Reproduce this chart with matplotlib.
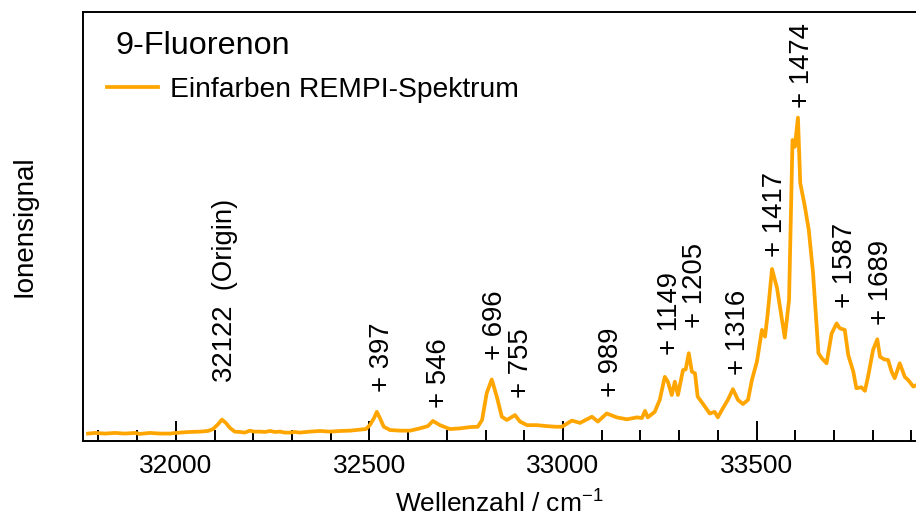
import matplotlib
matplotlib.use("Agg")
import matplotlib.pyplot as plt
from matplotlib.ticker import MultipleLocator

plt.rcParams['font.family'] = ['Liberation Sans', 'DejaVu Sans']
plt.rcParams['mathtext.fontset'] = 'custom'
plt.rcParams['mathtext.rm'] = 'Liberation Sans'
plt.rcParams['mathtext.it'] = 'Liberation Sans'

# Einfarben REMPI-Spektrum (Wellenzahl in cm-1, Signal in willk. Einheiten)
wellenzahl = [31773, 31791, 31817, 31842, 31868, 31894, 31907, 31933, 31959, 31984,
              32010, 32036, 32062, 32083, 32096, 32109, 32119, 32129, 32140, 32152,
              32165, 32178, 32191, 32202, 32217, 32230, 32243, 32256, 32269, 32282,
              32295, 32307, 32320, 32346, 32372, 32398, 32424, 32450, 32475, 32491,
              32501, 32512, 32519, 32527, 32537, 32553, 32579, 32605, 32630, 32651,
              32664, 32682, 32708, 32734, 32760, 32780, 32791, 32803, 32816, 32829,
              32842, 32855, 32876, 32889, 32907, 32933, 32958, 32982, 32997, 33023,
              33044, 33075, 33090, 33113, 33139, 33165, 33191, 33204, 33212, 33219,
              33237, 33250, 33263, 33271, 33281, 33289, 33297, 33310, 33317, 33325,
              33333, 33341, 33348, 33361, 33379, 33392, 33400, 33413, 33426, 33439,
              33452, 33465, 33478, 33488, 33501, 33514, 33522, 33529, 33540, 33553,
              33573, 33584, 33593, 33599, 33607, 33613, 33625, 33635, 33646, 33660,
              33669, 33681, 33694, 33707, 33715, 33728, 33737, 33750, 33758, 33771,
              33780, 33788, 33801, 33812, 33819, 33830, 33840, 33849, 33857, 33870,
              33883, 33892, 33905, 33914]
signal = [0.023, 0.025, 0.023, 0.025, 0.023, 0.025, 0.022, 0.025, 0.023, 0.023,
          0.026, 0.028, 0.029, 0.031, 0.037, 0.052, 0.066, 0.056, 0.040, 0.029,
          0.028, 0.026, 0.032, 0.029, 0.029, 0.028, 0.031, 0.028, 0.029, 0.026,
          0.026, 0.028, 0.026, 0.029, 0.031, 0.029, 0.031, 0.032, 0.035, 0.037,
          0.049, 0.071, 0.090, 0.071, 0.044, 0.034, 0.032, 0.032, 0.039, 0.046,
          0.062, 0.049, 0.037, 0.039, 0.043, 0.044, 0.065, 0.148, 0.190, 0.137,
          0.075, 0.065, 0.080, 0.060, 0.049, 0.049, 0.046, 0.044, 0.044, 0.063,
          0.056, 0.075, 0.060, 0.085, 0.073, 0.067, 0.073, 0.071, 0.093, 0.073,
          0.090, 0.127, 0.198, 0.183, 0.142, 0.183, 0.142, 0.219, 0.221, 0.271,
          0.214, 0.209, 0.137, 0.116, 0.085, 0.090, 0.073, 0.101, 0.127, 0.160,
          0.127, 0.114, 0.127, 0.188, 0.245, 0.343, 0.322, 0.394, 0.531, 0.472,
          0.319, 0.435, 0.929, 0.908, 0.998, 0.796, 0.723, 0.651, 0.519, 0.271,
          0.255, 0.240, 0.332, 0.363, 0.348, 0.343, 0.265, 0.214, 0.163, 0.166,
          0.155, 0.198, 0.281, 0.314, 0.260, 0.252, 0.250, 0.214, 0.194, 0.240,
          0.198, 0.188, 0.168, 0.173]

# Peak-Beschriftungen
label_texte = ['32122  (Origin)', '+ 397', '+ 546', '+ 696', '+ 755', '+ 989',
               '+ 1149', '+ 1205', '+ 1316', '+ 1417', '+ 1474', '+ 1587', '+ 1689']
label_x = [32128, 32533, 32681, 32824, 32891, 33125,
           33276, 33340, 33452, 33547, 33618, 33728, 33822]
label_y = [0.182, 0.152, 0.101, 0.250, 0.132, 0.137,
           0.265, 0.348, 0.204, 0.569, 1.027, 0.410, 0.358]

farbe = '#FFA500'

fig = plt.figure(figsize=(9.16, 5.18), dpi=100)
ax = fig.add_axes([0.0906, 0.1486, 0.9094, 0.8282])

ax.plot(wellenzahl, signal, color=farbe, lw=2.7, label='Einfarben REMPI-Spektrum')

for txt, x, y in zip(label_texte, label_x, label_y):
    ax.text(x, y, txt, rotation=90, ha='center', va='bottom', fontsize=19.8)

ax.set_xlim(31760, 33912)
ax.set_ylim(0, 1.324)
ax.xaxis.set_major_locator(MultipleLocator(500))
ax.xaxis.set_minor_locator(MultipleLocator(100))
ax.tick_params(axis='x', which='major', direction='in', length=14.5, width=1.4,
               labelsize=19, pad=9, top=False)
ax.tick_params(axis='x', which='minor', direction='in', length=8, width=1.4, top=False)
ax.set_yticks([])
for s in ['left', 'bottom', 'top']:
    ax.spines[s].set_linewidth(1.4)
ax.spines['right'].set_visible(False)

ax.set_xlabel('Wellenzahl / cm$^{-1}$', fontsize=19, labelpad=9)
fig.text(25 / 916, 1 - 226 / 518, 'Ionensignal', rotation=90, ha='center',
         va='center', fontsize=20)

fig.text(116 / 916, 1 - 46 / 518, '9-Fluorenon', ha='left', va='center', fontsize=23.3)
ax.legend(loc='center left', bbox_to_anchor=(107 / 916, 1 - 90 / 518),
          bbox_transform=fig.transFigure, frameon=False, fontsize=20.3,
          handlelength=1.8, handletextpad=0.45, borderpad=0, borderaxespad=0)

fig.savefig('out.png', dpi=100)
